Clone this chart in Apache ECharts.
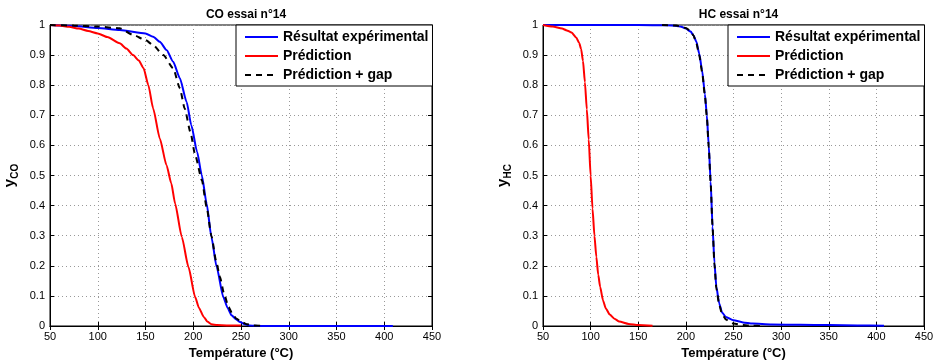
<!DOCTYPE html>
<html><head><meta charset="utf-8">
<script src="https://cdn.jsdelivr.net/npm/echarts@6/dist/echarts.min.js"></script>
<style>html,body{margin:0;padding:0;background:#fff}#c{width:935px;height:360px}</style>
</head><body><div id="c"></div>
<script>
// ---- data ----
const seriesNames = ["Résultat expérimental", "Prédiction", "Prédiction + gap"];
const titles = ["CO essai n°14", "HC essai n°14"];
const xTicks = [50, 100, 150, 200, 250, 300, 350, 400, 450];
const yTicks = [0, 0.1, 0.2, 0.3, 0.4, 0.5, 0.6, 0.7, 0.8, 0.9, 1];

const coExpT = [50,75,100,123,150,158,165,172,179,186,193,198,204,209,214,219,224.5,231.5,236,240,245,249,254,259,265,270,300,350,409];
const coExpY = [1,0.997,0.99,0.983,0.972,0.961,0.944,0.917,0.878,0.823,0.745,0.667,0.579,0.50,0.407,0.296,0.196,0.096,0.06,0.036,0.022,0.013,0.006,0.002,0.0005,0,0,0,0];

const coPredT = [50,60,70,80,90,100,110,123,130,137,143,148,153,158,165,172,177,181,188,195,202,206,211,215,219,225,235,250];
const coPredY = [1,0.998,0.994,0.988,0.98,0.972,0.96,0.939,0.922,0.90,0.882,0.856,0.80,0.723,0.623,0.534,0.474,0.407,0.296,0.196,0.096,0.06,0.03,0.014,0.006,0.003,0.002,0.002];

const coGapT = [50,75,100,123,137,150,158,168.6,179,186,191,197,202,209,214,219,224,228,232,237,241,245,250,256,263,273];
const coGapY = [1,0.998,0.995,0.989,0.967,0.95,0.933,0.90,0.856,0.79,0.723,0.645,0.568,0.485,0.395,0.30,0.215,0.163,0.11,0.063,0.04,0.025,0.015,0.006,0.002,0];

const hcExpT = [50,150,180,190,195,200,205,208,211,214,217,220,222,224,226,228,230,232,235,238,242,250,260,270,290,320,350,380,408];
const hcExpY = [1,1,0.999,0.997,0.994,0.988,0.978,0.965,0.945,0.905,0.85,0.77,0.70,0.60,0.48,0.33,0.21,0.13,0.075,0.045,0.03,0.019,0.012,0.008,0.005,0.004,0.003,0.002,0.001];

const hcPredT = [50,60,70,75,80,85,88,90,92,94,96,98,100,102,104,106,108,110,113,116,120,125,130,140,150,165];
const hcPredY = [1,0.995,0.988,0.982,0.975,0.958,0.94,0.92,0.88,0.81,0.72,0.62,0.50,0.39,0.30,0.23,0.17,0.13,0.085,0.058,0.038,0.024,0.015,0.007,0.003,0.001];

const hcGapT = [175,190,200,205,208,211,214,217,220,222,224,226,228,230,232,235,238,242,246,250,260,270,280];
const hcGapY = [1,0.998,0.99,0.98,0.965,0.94,0.90,0.845,0.765,0.695,0.595,0.475,0.33,0.205,0.125,0.07,0.04,0.022,0.013,0.008,0.003,0.001,0];

// ---- build ----
const zip = (t, y) => t.map((v, i) => [v, y[i]]);
const FONT = "Liberation Sans, Arial, sans-serif";
const grids = [
  {left: 50, top: 25, width: 382, height: 301},
  {left: 543, top: 25, width: 381, height: 301}
];
const colors = ["#0000ff", "#ff0000", "#000000"];
const styles = [
  {width: 2, type: "solid"},
  {width: 2, type: "solid"},
  {width: 2, type: [6, 5]}
];
const dataSets = [
  [zip(coExpT, coExpY), zip(coPredT, coPredY), zip(coGapT, coGapY)],
  [zip(hcExpT, hcExpY), zip(hcPredT, hcPredY), zip(hcGapT, hcGapY)]
];
const yNames = ["{a|y}{b|CO}", "{a|y}{b|HC}"];

const xAxis = [], yAxis = [], series = [], title = [], legend = [];
grids.forEach((g, gi) => {
  g.show = true; g.borderColor = "#000"; g.borderWidth = 1; g.backgroundColor = "#fff";
  g.outerBoundsMode = "none"; g.containLabel = false;
  const xBase = {
    type: "value", gridIndex: gi, min: xTicks[0], max: xTicks[xTicks.length - 1], interval: 50,
    axisLine: {show: true, lineStyle: {color: "#000", width: 1}},
    axisTick: {show: true, inside: true, length: 4, lineStyle: {color: "#000"}},
  };
  xAxis.push(Object.assign({}, xBase, {
    position: "bottom",
    axisLabel: {color: "#000", fontSize: 11, fontFamily: FONT, margin: 5},
    splitLine: {show: true, lineStyle: {color: "#999", type: [1, 3], width: 1}},
    name: "Température (°C)", nameLocation: "middle", nameGap: 21,
    nameTextStyle: {color: "#000", fontSize: 13, fontWeight: "bold", fontFamily: FONT}
  }));
  xAxis.push(Object.assign({}, xBase, {
    position: "top", axisLabel: {show: false}, splitLine: {show: false}
  }));
  const yBase = {
    type: "value", gridIndex: gi, min: 0, max: 1, interval: 0.1,
    axisLine: {show: true, lineStyle: {color: "#000", width: 1}},
    axisTick: {show: true, inside: true, length: 4, lineStyle: {color: "#000"}},
  };
  yAxis.push(Object.assign({}, yBase, {
    position: "left",
    axisLabel: {color: "#000", fontSize: 11, fontFamily: FONT, margin: 5},
    splitLine: {show: true, lineStyle: {color: "#999", type: [1, 3], width: 1}},
    name: yNames[gi], nameLocation: "middle", nameGap: 30,
    nameTextStyle: {
      color: "#000", fontFamily: FONT,
      rich: {
        a: {fontSize: 15, fontWeight: "bold", fontFamily: FONT, color: "#000", verticalAlign: "top", lineHeight: 18},
        b: {fontSize: 10, fontWeight: "bold", fontFamily: FONT, color: "#000", verticalAlign: "bottom", lineHeight: 18, padding: [6, 0, 0, 0]}
      }
    }
  }));
  yAxis.push(Object.assign({}, yBase, {
    position: "right", axisLabel: {show: false}, splitLine: {show: false}
  }));
  dataSets[gi].forEach((d, si) => {
    series.push({
      type: "line", name: seriesNames[si], xAxisIndex: gi * 2, yAxisIndex: gi * 2,
      data: d, showSymbol: false, symbol: "none", smooth: 0.2, smoothMonotone: "x",
      color: colors[si], lineStyle: Object.assign({color: colors[si]}, styles[si]),
      z: 3 + si, silent: true, animation: false
    });
  });
  title.push({
    text: titles[gi], left: g.left + g.width / 2, top: 4, textAlign: "center",
    textStyle: {color: "#000", fontSize: 12, fontWeight: "bold", fontFamily: FONT}
  });
  legend.push({
    data: seriesNames, orient: "vertical", left: g.left + g.width - 196, top: 25,
    padding: [5, 4, 4, 8], itemGap: 5, itemWidth: 33, itemHeight: 14,
    borderColor: "#000", borderWidth: 1, backgroundColor: "#fff",
    itemStyle: {opacity: 0},
    textStyle: {color: "#000", fontSize: 14, fontWeight: "bold", fontFamily: FONT},
    selectedMode: false, z: 10
  });
});

const chart = echarts.init(document.getElementById("c"), null, {renderer: "canvas"});
chart.setOption({
  backgroundColor: "#fff", animation: false,
  grid: grids, xAxis, yAxis, series, title, legend
});
</script></body></html>
